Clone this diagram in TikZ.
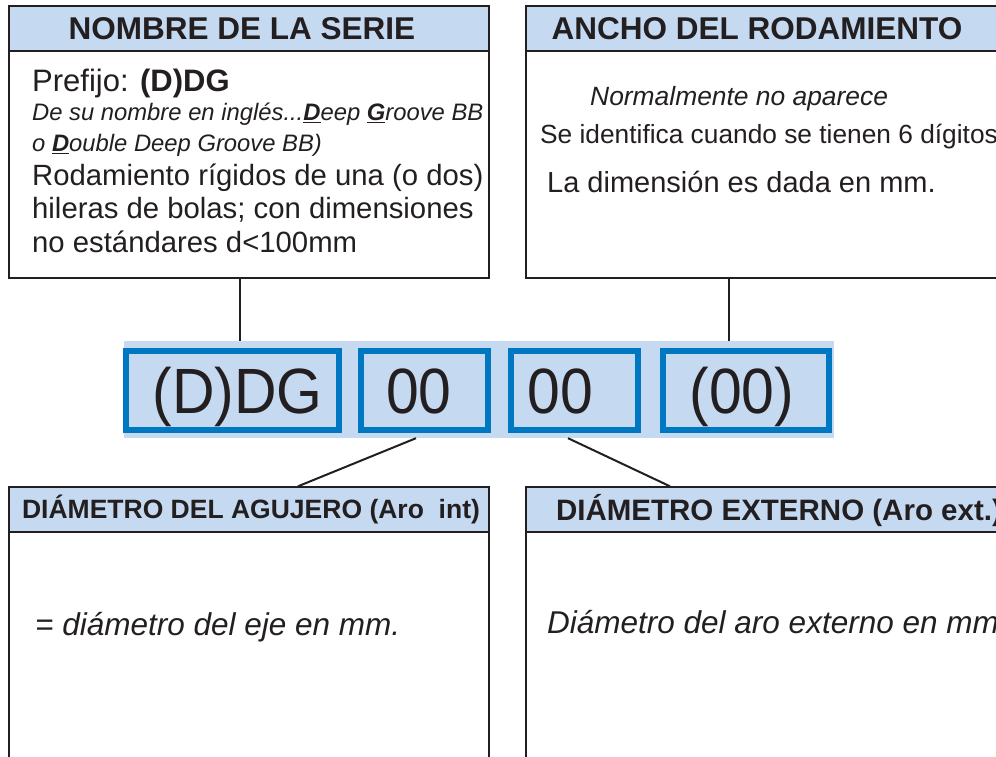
\documentclass[tikz,border=0pt]{standalone}
\usepackage{fontspec}
\setmainfont{Liberation Sans}
\newfontfamily\codefont[FakeStretch=0.92]{Liberation Sans}

\definecolor{headblue}{RGB}{197,217,241}
\definecolor{codeblue}{RGB}{0,120,193}
\definecolor{inkgray}{RGB}{35,31,32}

\tikzset{
    infobox/.style={draw=inkgray, line width=1.4pt, fill=white, minimum width=480pt, inner sep=0pt},
    headbar/.style={draw=inkgray, line width=1.4pt, fill=headblue, minimum width=480pt, minimum height=45pt, anchor=north, inner sep=0pt},
    headlabel/.style={font={\bfseries\fontsize{31.5}{36}\selectfont}, text=inkgray, inner sep=0pt},
    headsmall/.style={font={\bfseries\fontsize{26.5}{30}\selectfont}, text=inkgray, inner sep=0pt},
    codebox/.style={draw=codeblue, line width=5.5pt, fill=headblue, minimum height=79pt, inner sep=0pt},
    codetext/.style={font={\codefont\fontsize{64}{64}\selectfont}, text=inkgray, text height=46pt, text depth=0pt, inner sep=0pt},
    body/.style={anchor=base west, inner sep=0pt, align=left, text=inkgray},
    link/.style={draw=inkgray, line width=2.6pt},
    slant/.style={draw=inkgray, line width=2pt}
}

\begin{document}
\begin{tikzpicture}[x=1pt, y=-1pt]
    % Frame
    \useasboundingbox (0,0) rectangle (996,757);
    \clip (0,0) rectangle (996,757);

    % Draw Info Boxes
    % -- top side
    \node[infobox, minimum height=272pt] (serie) at (249,142) {};
    \node[headbar, label={[headlabel, xshift=-7pt]center:NOMBRE DE LA SERIE}] (serieh) at (serie.north) {};
    \node[infobox, minimum height=272pt] (ancho) at (766,142) {};
    \node[headbar, label={[headlabel, xshift=-9pt]center:ANCHO DEL RODAMIENTO}] (anchoh) at (ancho.north) {};

    % -- bottom side
    \node[infobox, minimum height=303pt] (agujero) at (249,638.5) {};
    \node[headbar, label={[headsmall, xshift=2pt]center:DIÁMETRO DEL AGUJERO (Aro\ \ int)}] (agujeroh) at (agujero.north) {};
    \node[infobox, minimum height=303pt] (externo) at (766,638.5) {};
    \node[headbar, label={[headsmall, font={\bfseries\fontsize{29.5}{34}\selectfont}, xshift=13pt, yshift=-1pt]center:DIÁMETRO EXTERNO (Aro ext.)}] (externoh) at (externo.north) {};

    % Connectors
    \draw[link] ([xshift=-9pt]serie.south) -- ([xshift=-9pt]serie.south |- 0,341);
    \draw[link] ([xshift=-37pt]ancho.south) -- ([xshift=-37pt]ancho.south |- 0,341);

    % Designation Band
    \node[fill=headblue, minimum width=710pt, minimum height=97pt, inner sep=0pt] (band) at (479,389.5) {};
    \node[codebox, minimum width=213pt, label={[codetext, xshift=5pt]center:(D)DG}] (d1) at (232.5,390.5) {};
    \node[codebox, minimum width=127pt, label={[codetext, xshift=-5.5pt]center:00}] (d2) at (424.5,390.5) {};
    \node[codebox, minimum width=127pt, label={[codetext, xshift=-14pt]center:00}] (d3) at (574.5,390.5) {};
    \node[codebox, minimum width=166pt, label={[codetext, xshift=-4pt]center:(00)}] (d4) at (746,390.5) {};

    \draw[slant] ([xshift=-8.5pt]d2.south |- band.south) -- ([xshift=49pt]agujero.north);
    \draw[slant] ([xshift=-6.5pt]d3.south |- band.south) -- ([xshift=-96pt]externo.north);

    % Box Texts
    % -- series name (base = last line)
    \node[body, font={\fontsize{31}{37}\selectfont}] (prefijo) at (32,92) {Prefijo: \textbf{(D)DG}};
    \node[body, font={\itshape\fontsize{23.8}{31}\selectfont}] (origen) at (32,152)
        {De su nombre en inglés...\underline{\textbf{D}}eep \underline{\textbf{G}}roove BB\\o \underline{\textbf{D}}ouble Deep Groove BB)};
    \node[body, font={\fontsize{29.3}{33.5}\selectfont}] (descr) at (32,252)
        {Rodamiento rígidos de una (o dos)\\hileras de bolas; con dimensiones\\no estándares d<100mm};

    % -- width
    \node[body, font={\itshape\fontsize{26.4}{30}\selectfont}] (aparece) at (590,106) {Normalmente no aparece};
    \node[body, font={\fontsize{26.3}{30}\selectfont}] (digitos) at (540,143) {Se identifica cuando se tienen 6 dígitos};
    \node[body, font={\fontsize{29}{33}\selectfont}] (dimension) at (547,192) {La dimensión es dada en mm.};

    % -- diameters
    \node[body, font={\itshape\fontsize{31.5}{36}\selectfont}] (eje) at (35,635) {= diámetro del eje en mm.};
    \node[body, font={\itshape\fontsize{31.5}{36}\selectfont}] (aro) at (547,633) {Diámetro del aro externo en mm};
\end{tikzpicture}
\end{document}
